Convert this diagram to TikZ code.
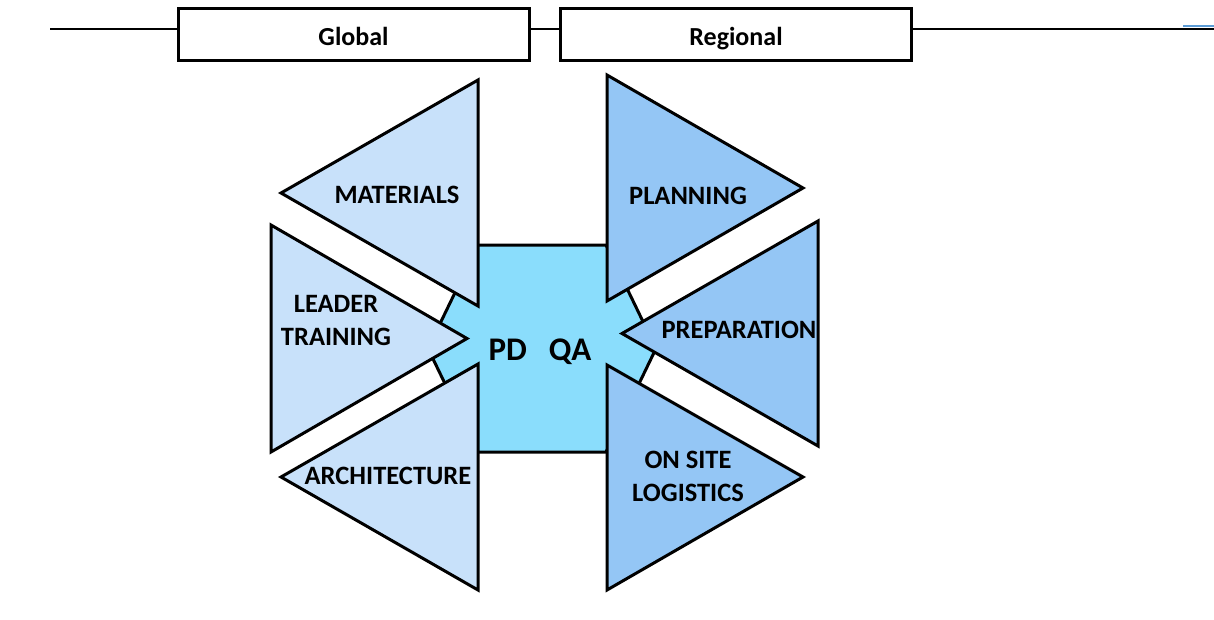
\documentclass[tikz,border=0pt]{standalone}
\usepackage{fontspec}
\setmainfont{Carlito}
\begin{document}
\begin{tikzpicture}[x=1pt,y=-1pt,
  edge/.style={draw=black,line width=3pt,line join=miter},
  lefttri/.style={edge,fill=leftblue},
  righttri/.style={edge,fill=rightblue},
  hexa/.style={edge,fill=centerblue},
  lbl/.style={font=\fontsize{26.5}{33}\selectfont\bfseries,align=center,inner sep=0pt},
  topbox/.style={draw=black,line width=3pt,fill=white,minimum width=351pt,minimum height=52pt,inner sep=0pt,text height=28pt,text depth=6pt,font=\fontsize{26}{30}\selectfont\bfseries},
  rule/.style={draw=black,line width=2pt}
]
\definecolor{leftblue}{RGB}{200,225,250}
\definecolor{rightblue}{RGB}{148,198,245}
\definecolor{centerblue}{RGB}{138,221,252}
\definecolor{accentblue}{RGB}{91,155,213}
\useasboundingbox (0,0) rectangle (1214,619);

% top bar
\node[topbox] (global) at (353.5,34) {Global};
\node[topbox] (regional) at (736,34) {Regional};
\coordinate (l0) at (50,29);
\coordinate (l1) at (1214,29);
\draw[rule] (l0) -- (global.west |- l0);
\draw[rule] (global.east |- l0) -- (regional.west |- l0);
\draw[rule] (regional.east |- l0) -- (l1);
\coordinate (b0) at (1183,26);
\coordinate (b1) at (1214,26);
\draw[draw=accentblue,line width=2pt] (b0) -- (b1);

% central hexagon
\path[hexa] (478,245) -- (606,245) -- (656,348.5) -- (606,452) -- (478,452) -- (428,348.5) -- cycle;

% left triangles
\path[lefttri] (478,80) -- (281,193) -- (478,306) -- cycle;
\path[lefttri] (271,225) -- (467,338.5) -- (271,452) -- cycle;
\path[lefttri] (478,364) -- (281,477) -- (478,590) -- cycle;

% right triangles
\path[righttri] (607,75) -- (803,188) -- (607,301) -- cycle;
\path[righttri] (818,221) -- (622,333.5) -- (818,446) -- cycle;
\path[righttri] (607,365) -- (803,477) -- (607,590) -- cycle;

% labels
\node[lbl] (materials) at (397,195) {MATERIALS};
\node[lbl] (leader) at (336,320) {LEADER\\TRAINING};
\node[lbl] (architecture) at (388,476) {ARCHITECTURE};
\node[lbl] (planning) at (688,196) {PLANNING};
\node[lbl] (preparation) at (739,330) {PREPARATION};
\node[lbl] (onsite) at (688,476) {ON SITE\\LOGISTICS};
\node[lbl,font=\fontsize{33}{38}\selectfont\bfseries] (pdqa) at (540,352) {PD\hspace{22pt}QA};
\end{tikzpicture}
\end{document}
